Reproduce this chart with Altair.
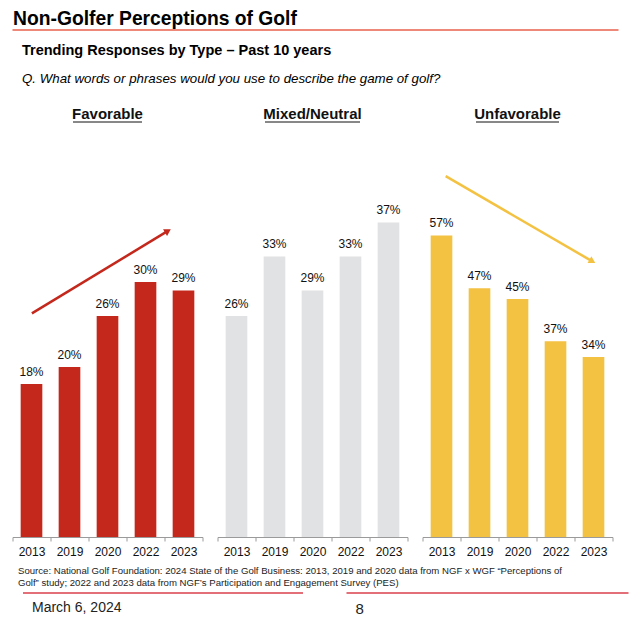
import altair as alt
import pandas as pd

# ---------------- data ----------------
years = ["2013", "2019", "2020", "2022", "2023"]
favorable = [18, 20, 26, 30, 29]
mixed = [26, 33, 29, 33, 37]
unfavorable = [57, 47, 45, 37, 34]

panel_titles = ["Favorable", "Mixed/Neutral", "Unfavorable"]

# trend arrows: position in band-index units (0..5) and percent
fav_arrow_x = [0.51, 4.09]
fav_arrow_y = [26.3, 36.0]
unfav_arrow_x = [0.61, 4.47]
unfav_arrow_y = [68.2, 52.1]

title_text = "Non-Golfer Perceptions of Golf"
subtitle_text = "Trending Responses by Type \u2013 Past 10 years"
question_text = "Q. What words or phrases would you use to describe the game of golf?"
source_lines = [
    "Source: National Golf Foundation: 2024 State of the Golf Business: 2013, 2019 and 2020 data from NGF x WGF \u201cPerceptions of",
    "Golf\u201d study; 2022 and 2023 data from NGF\u2019s Participation and Engagement Survey (PES)",
]
date_text = "March 6, 2024"
page_text = "8"

# ---------------- styles ----------------
FONT = "Liberation Sans, Arial, Helvetica, sans-serif"
RED = "#c4281c"
GREY = "#e1e2e4"
YELLOW = "#f4c242"
LINE_RED = "#e8604d"
FOOT_RED = "#e36f78"
AXIS_GREY = "#9a9a9a"
PW, PH = 190, 437
HEADER_W, HEADER_H = 606, 92
FOOT_W, FOOT_H = 617, 60

one = pd.DataFrame({"a": [0]})


def text_layer(txt, x, y, size, weight="normal", style="normal", align="left", color="#111111"):
    return alt.Chart(pd.DataFrame({"t": [txt]})).mark_text(
        font=FONT, fontSize=size, fontWeight=weight, fontStyle=style,
        align=align, baseline="alphabetic", color=color
    ).encode(x=alt.value(x), y=alt.value(y), text="t:N")


def rule_layer(x1, x2, y, color, width):
    return alt.Chart(one).mark_rule(color=color, strokeWidth=width).encode(
        x=alt.value(x1), x2=alt.value(x2), y=alt.value(y)
    )


def panel(title, values, color, dmax, underline_w, arrow=None, arrow_color=None, head_angle=0):
    df = pd.DataFrame({"year": years, "value": values})
    yscale = alt.Scale(domain=[0, dmax], nice=False, zero=True)
    x = alt.X(
        "year:N", sort=years,
        scale=alt.Scale(paddingInner=0, paddingOuter=0),
        axis=alt.Axis(
            title=None, labelAngle=0, tickBand="extent", grid=False,
            domainColor=AXIS_GREY, tickColor=AXIS_GREY, tickSize=4,
            labelFont=FONT, labelFontSize=12, labelColor="#111111", labelPadding=5,
        ),
    )
    y = alt.Y("value:Q", scale=yscale, axis=None)
    bars = alt.Chart(df).mark_bar(color=color, width=alt.RelativeBandSize(0.57)).encode(x=x, y=y)
    labels = alt.Chart(df).transform_calculate(label="datum.value + '%'").mark_text(
        font=FONT, fontSize=12, dy=-8, baseline="alphabetic", color="#111111"
    ).encode(x=x, y=y, text="label:N")
    inner = alt.layer(bars, labels)
    layers = [inner,
              text_layer(title, PW / 2, 19, 15, weight="bold", align="center"),
              rule_layer(PW / 2 - underline_w / 2, PW / 2 + underline_w / 2, 22, "#111111", 1)]
    if arrow is not None:
        ax, ay = arrow
        adf = pd.DataFrame({"x1": [ax[0]], "x2": [ax[1]], "y1": [ay[0]], "y2": [ay[1]]})
        xs = alt.Scale(domain=[0, 5], nice=False, zero=False)
        line = alt.Chart(adf).mark_rule(color=arrow_color, strokeWidth=2.5).encode(
            x=alt.X("x1:Q", scale=xs, axis=None), x2="x2:Q",
            y=alt.Y("y1:Q", scale=yscale, axis=None), y2="y2:Q",
        )
        head = alt.Chart(adf).mark_point(
            shape="triangle-up", filled=True, size=60, angle=head_angle,
            color=arrow_color, opacity=1
        ).encode(
            x=alt.X("x2:Q", scale=xs, axis=None),
            y=alt.Y("y2:Q", scale=yscale, axis=None),
        )
        layers.append(alt.layer(line, head))
    return alt.layer(*layers).resolve_scale(x="independent").properties(width=PW, height=PH)


p1 = panel(panel_titles[0], favorable, RED, 51.4, 69, (fav_arrow_x, fav_arrow_y), RED, 58.8)
p2 = panel(panel_titles[1], mixed, GREY, 51.4, 95)
p3 = panel(panel_titles[2], unfavorable, YELLOW, 82.6, 83, (unfav_arrow_x, unfav_arrow_y), YELLOW, 120.2)

panels = alt.hconcat(p1, p2, p3, spacing=15, bounds="flush")

header = alt.layer(
    text_layer(title_text, 0.5, 17, 19.3, weight="bold", color="#000000"),
    rule_layer(0, HEADER_W, 22, LINE_RED, 1.5),
    text_layer(subtitle_text, 9.5, 47, 14.5, weight="bold", color="#000000"),
    text_layer(question_text, 9.5, 75.3, 13.3, style="italic", color="#000000"),
).properties(width=HEADER_W, height=HEADER_H)

footer = alt.layer(
    text_layer(source_lines[0], 5.5, 17, 9.6, color="#222222"),
    text_layer(source_lines[1], 5.5, 28.7, 9.6, color="#222222"),
    rule_layer(10.5, 290.5, 36, FOOT_RED, 2),
    rule_layer(334, 616, 36, FOOT_RED, 2),
    text_layer(date_text, 19.5, 55.3, 14, color="#222222"),
    text_layer(page_text, 343, 57, 15, color="#222222"),
).properties(width=FOOT_W, height=FOOT_H)

chart = alt.vconcat(header, panels, footer, spacing=0).properties(
    padding={"left": 3.5, "top": 0, "right": 0, "bottom": 0}
).configure_view(stroke=None)

chart.save("out.html", embed_options={"renderer": "svg", "actions": False})
